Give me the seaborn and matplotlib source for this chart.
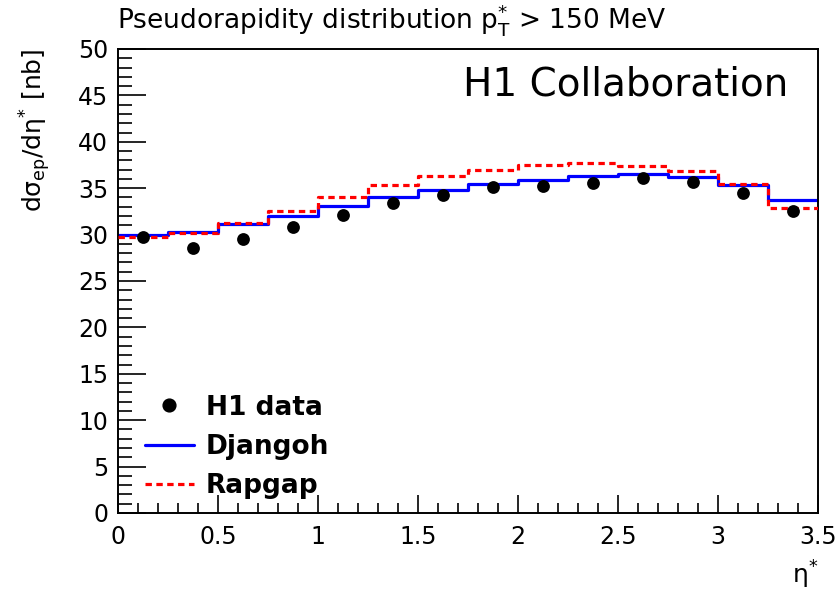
import numpy as np
import pandas as pd
import matplotlib
matplotlib.use("Agg")
import matplotlib.pyplot as plt
from matplotlib.lines import Line2D
import seaborn as sns

# Bin edges in eta* and measured / predicted cross sections per bin [nb]
bin_edges = [0.0, 0.25, 0.5, 0.75, 1.0, 1.25, 1.5, 1.75, 2.0, 2.25, 2.5, 2.75, 3.0, 3.25, 3.5]
h1_data = [29.7, 28.6, 29.5, 30.8, 32.1, 33.4, 34.3, 35.1, 35.2, 35.6, 36.1, 35.7, 34.5, 32.5]
djangoh = [30.0, 30.3, 31.1, 32.0, 33.1, 34.0, 34.8, 35.5, 35.9, 36.3, 36.5, 36.2, 35.3, 33.7]
rapgap = [29.7, 30.2, 31.3, 32.5, 34.0, 35.3, 36.3, 37.0, 37.5, 37.7, 37.4, 36.8, 35.5, 32.9]
x_tick_labels = ["0", "0.5", "1", "1.5", "2", "2.5", "3", "3.5"]
legend_labels = ["H1 data", "Djangoh", "Rapgap"]

sns.set_style("ticks")
plt.rcParams["font.family"] = ["DejaVu Sans"]
plt.rcParams["mathtext.fontset"] = "dejavusans"
plt.rcParams["mathtext.default"] = "regular"
for key in ("text.color", "axes.labelcolor", "xtick.color", "ytick.color", "axes.edgecolor"):
    plt.rcParams[key] = "black"

edges = np.array(bin_edges)
centres = 0.5 * (edges[:-1] + edges[1:])

def step_frame(values):
    # repeat the last value so steps-post closes the final bin
    return pd.DataFrame({"eta": edges, "xsec": list(values) + [values[-1]]})

points = pd.DataFrame({"eta": centres, "xsec": h1_data})

blue = "#0000ff"
red = "#ff0000"
dash = (0, (2.0, 1.4))

fig = plt.figure(figsize=(8.4, 5.94), dpi=100)
ax = fig.add_axes([118 / 840, 1 - 513 / 594, 700 / 840, 464 / 594])

sns.lineplot(data=step_frame(djangoh), x="eta", y="xsec", ax=ax,
             drawstyle="steps-post", color=blue, linewidth=2.3, zorder=2)
sns.lineplot(data=step_frame(rapgap), x="eta", y="xsec", ax=ax,
             drawstyle="steps-post", color=red, linewidth=2.3,
             linestyle=dash, zorder=3)
sns.scatterplot(data=points, x="eta", y="xsec", ax=ax, color="black",
                s=85, marker="o", linewidth=0, zorder=4)

ax.set_xlim(0, 3.5)
ax.set_ylim(0, 50)
ax.set_xticks(np.arange(0, 3.51, 0.5))
ax.set_xticks(np.arange(0, 3.51, 0.1), minor=True)
ax.set_yticks(np.arange(0, 51, 5))
ax.set_yticks(np.arange(0, 51, 1), minor=True)
ax.set_xticklabels(x_tick_labels)
ax.tick_params(axis="both", which="both", direction="in", labelsize=17, width=1.2)
ax.tick_params(axis="y", which="major", length=20, pad=7)
ax.tick_params(axis="y", which="minor", length=10)
ax.tick_params(axis="x", which="major", length=13, pad=9)
ax.tick_params(axis="x", which="minor", length=7)
for side in ax.spines.values():
    side.set_visible(True)
    side.set_linewidth(1.4)

ax.set_xlabel(r"$\eta^{*}$", fontsize=18, loc="right", labelpad=7)
ax.set_ylabel(r"d$\sigma_{ep}$/d$\eta^{*}$ [nb]", fontsize=18, loc="top", labelpad=18)

fig.text(117 / 840, 1 - 28 / 594, r"Pseudorapidity distribution p$_{T}^{*}$ > 150 MeV",
         fontsize=19, ha="left", va="baseline")
ax.text((788 - 118) / 700, (513 - 95) / 464, "H1 Collaboration", transform=ax.transAxes,
        fontsize=28, ha="right", va="baseline")

handles = [
    Line2D([], [], marker="o", color="black", linestyle="none", markersize=9.2),
    Line2D([], [], color=blue, linewidth=2.3),
    Line2D([], [], color=red, linewidth=2.3, linestyle=dash),
]
ax.legend(handles, legend_labels, loc="lower left",
          bbox_to_anchor=((145 - 118) / 700, 0.03), borderaxespad=0, borderpad=0,
          frameon=False, handlelength=1.85, handletextpad=0.45, labelspacing=0.5,
          prop={"family": "DejaVu Sans", "weight": "bold", "size": 19})

fig.savefig("out.png", dpi=100)
